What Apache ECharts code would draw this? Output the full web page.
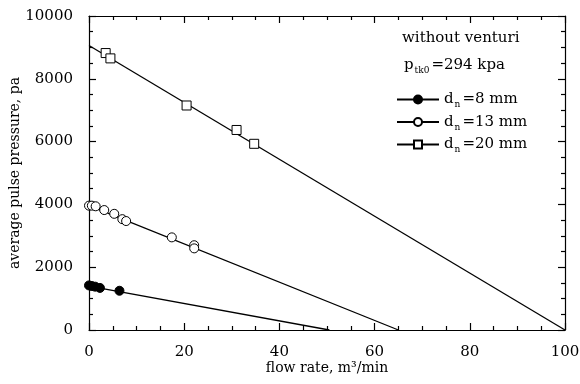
<!DOCTYPE html>
<html>
<head>
<meta charset="utf-8">
<script src="https://cdn.jsdelivr.net/npm/echarts@6/dist/echarts.min.js"></script>
<style>
  html, body { margin: 0; padding: 0; background: #fff; }
  #main { width: 580px; height: 384px; }
</style>
</head>
<body>
<div id="main"></div>
<script>
// measured points
var pts8 = [[0, 1420], [0.6, 1400], [1.3, 1380], [2.3, 1340], [6.4, 1250]];
var pts13 = [[0, 3960], [0.6, 3960], [1.4, 3940], [3.2, 3820], [5.3, 3700], [7.0, 3530], [7.8, 3470], [17.4, 2950], [22.1, 2700], [22.1, 2600]];
var pts20 = [[3.5, 8820], [4.5, 8650], [20.5, 7150], [31.0, 6370], [34.7, 5930]];

// fitted lines (end points)
var fit8 = [[0, 1400], [50.5, 0]];
var fit13 = [[0, 3960], [65, 0]];
var fit20 = [[0, 9060], [100, 0]];

var names = ['dn=8 mm', 'dn=13 mm', 'dn=20 mm'];

var serif = 'DejaVu Serif';
var rich = {
  a: { fontFamily: serif, fontSize: 15, color: '#000', lineHeight: 20 },
  s: { fontFamily: serif, fontSize: 9, color: '#000', lineHeight: 8, verticalAlign: 'bottom', padding: [0, 2, 0, 1] }
};

var chart = echarts.init(document.getElementById('main'));

function fitSeries(name, data, symbol, filled) {
  return {
    name: name, type: 'line', data: data,
    symbol: symbol, symbolSize: 8, showSymbol: false,
    lineStyle: { color: '#000', width: 1.3 },
    itemStyle: { color: filled ? '#000' : '#fff', borderColor: '#000', borderWidth: 1 },
    emphasis: { disabled: true }, silent: true, animation: false
  };
}
function ptSeries(name, data, symbol, filled) {
  return {
    name: name, type: 'scatter', data: data, symbol: symbol, symbolSize: 9, clip: false,
    itemStyle: { color: filled ? '#000' : '#fff', borderColor: '#000', borderWidth: 1, opacity: 1 },
    silent: true, animation: false, z: 3
  };
}

var tickStyle = { color: '#000', width: 1.2 };
function plain(v) { return String(v); }
function xAxis(pos, labels) {
  return {
    type: 'value', position: pos, min: 0, max: 100, interval: 20,
    axisLine: { show: true, onZero: false, lineStyle: tickStyle },
    axisTick: { show: true, inside: true, length: 7, lineStyle: tickStyle },
    minorTick: { show: true, splitNumber: 4, length: 4, lineStyle: tickStyle },
    splitLine: { show: false },
    axisLabel: { show: labels, formatter: plain, color: '#000', fontFamily: serif, fontSize: 15, margin: 15 },
    name: labels ? 'flow rate, m³/min' : '',
    nameLocation: 'middle', nameGap: 31, nameMoveOverlap: false,
    nameTextStyle: { color: '#000', fontFamily: serif, fontSize: 14 }
  };
}
function yAxis(pos, labels) {
  return {
    type: 'value', position: pos, min: 0, max: 10000, interval: 2000,
    axisLine: { show: true, onZero: false, lineStyle: tickStyle },
    axisTick: { show: true, inside: true, length: 7, lineStyle: tickStyle },
    minorTick: { show: true, splitNumber: 4, length: 4, lineStyle: tickStyle },
    splitLine: { show: false },
    axisLabel: { show: labels, formatter: plain, color: '#000', fontFamily: serif, fontSize: 15, margin: 16 },
    name: labels ? 'average pulse pressure, pa' : '',
    nameLocation: 'middle', nameGap: 67, nameRotate: 90, nameMoveOverlap: false,
    nameTextStyle: { color: '#000', fontFamily: serif, fontSize: 14 }
  };
}

chart.setOption({
  animation: false,
  backgroundColor: '#fff',
  grid: { left: 89, right: 15, top: 16, bottom: 54, containLabel: false, outerBoundsMode: 'none' },
  xAxis: [xAxis('bottom', true), xAxis('top', false)],
  yAxis: [yAxis('left', true), yAxis('right', false)],
  legend: {
    data: names, orient: 'vertical', left: 391, top: 87,
    itemWidth: 42, itemHeight: 10, itemGap: 5,
    selectedMode: false,
    formatter: function (n) { return '{a|d}{s|n}{a|' + n.slice(2) + '}'; },
    textStyle: { rich: rich }
  },
  graphic: [
    { type: 'text', left: 402, top: 31, silent: true,
      style: { text: 'without venturi', fontFamily: serif, fontSize: 15, fill: '#000' } },
    { type: 'text', left: 404, top: 58, silent: true,
      style: { text: '{a|p}{s|tk0}{a|=294 kpa}', rich: rich } }
  ],
  series: [
    fitSeries(names[0], fit8, 'circle', true),
    fitSeries(names[1], fit13, 'circle', false),
    fitSeries(names[2], fit20, 'rect', false),
    ptSeries('p8', pts8, 'circle', true),
    ptSeries('p13', pts13, 'circle', false),
    ptSeries('p20', pts20, 'rect', false)
  ]
});
</script>
</body>
</html>
